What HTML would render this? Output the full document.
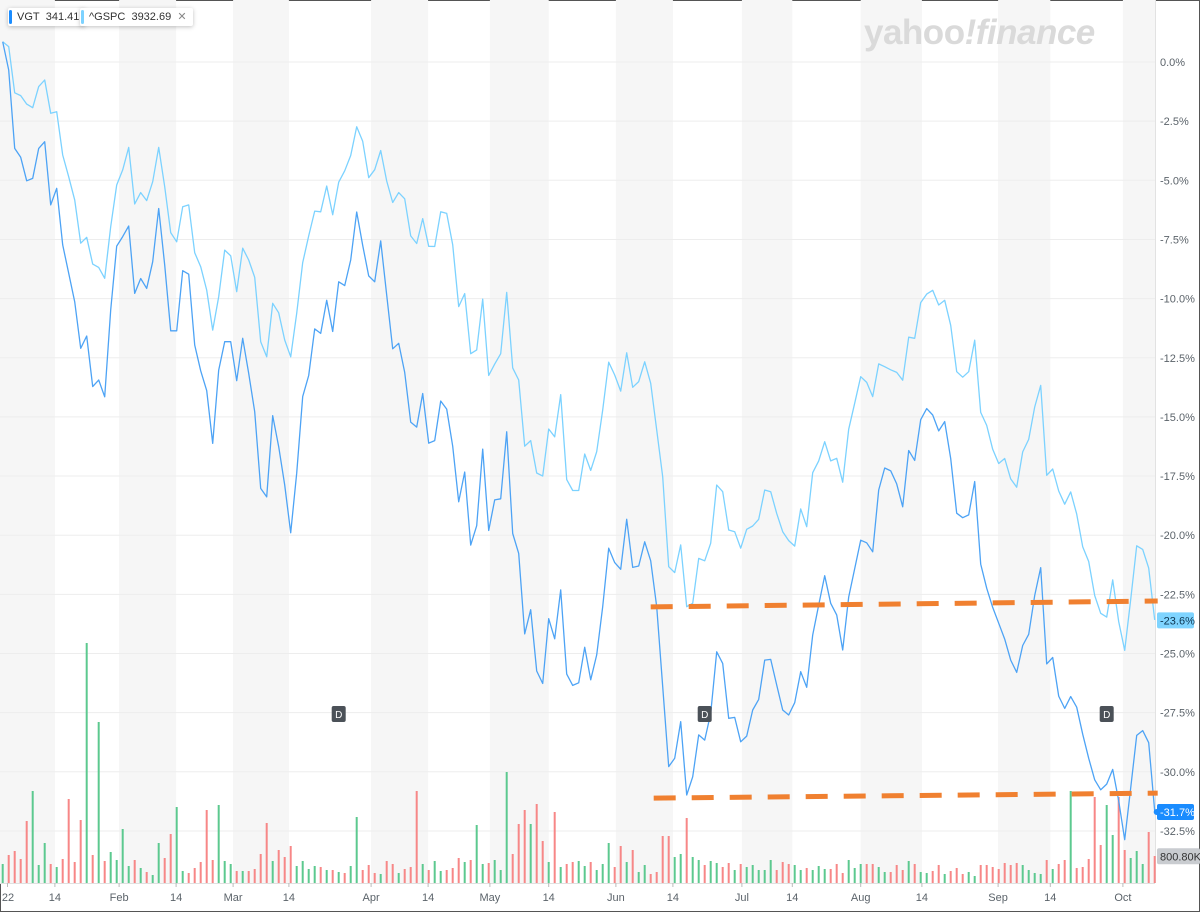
<!DOCTYPE html>
<html><head><meta charset="utf-8"><style>
html,body{margin:0;padding:0;background:#fff;}
body{width:1200px;height:912px;overflow:hidden;position:relative;font-family:"Liberation Sans",sans-serif;}
#frame{position:absolute;left:0;top:0;width:1198px;height:910px;border:1px solid #555;}
svg{position:absolute;left:0;top:0;}
.chip{position:absolute;top:8px;height:18px;background:#fff;box-shadow:0 1px 4px rgba(0,0,0,.25);border-radius:2px;font-size:11px;color:#333;line-height:18px;padding:0 6px 0 9px;white-space:nowrap;}
.chip i{position:absolute;left:1px;top:2px;width:3px;height:14px;border-radius:2px;}
</style></head><body>
<div id="frame"></div>
<svg id="chart" width="1200" height="912"></svg>
<div class="chip" style="left:8px"><i style="background:#1a8cff"></i>VGT&nbsp; 341.41</div>
<div class="chip" style="left:80px"><i style="background:#7cd2ff"></i>^GSPC&nbsp; 3932.69 &nbsp;<span style="color:#888">✕</span></div>
<div style="position:absolute;left:864px;top:13px;font-size:35px;font-weight:bold;color:#dadada;letter-spacing:-0.5px">yahoo<i>!</i><i>finance</i></div>
<script>
const vgt=[0.86,-0.34,-3.65,-4.03,-5.02,-4.92,-3.65,-3.37,-6.04,-5.34,-7.73,-8.93,-10.13,-12.10,-11.58,-13.72,-13.44,-14.15,-10.48,-7.78,-7.38,-6.93,-9.78,-9.15,-9.57,-8.44,-6.19,-8.58,-11.36,-11.36,-8.82,-8.97,-11.96,-13.05,-13.89,-16.12,-13.02,-11.82,-11.82,-13.47,-11.68,-13.16,-14.78,-18.02,-18.38,-14.95,-16.26,-17.88,-19.90,-17.38,
-14.14,-13.25,-11.28,-11.47,-10.07,-11.39,-9.29,-9.45,-8.37,-6.34,-7.75,-9.04,-9.29,-7.56,-9.85,-12.12,-11.89,-13.12,-15.22,-15.43,-14.01,-16.11,-16.00,-14.33,-14.67,-16.24,-18.59,-17.33,-20.42,-19.60,-16.36,-19.80,-18.51,-18.46,-15.63,-19.93,-20.77,-24.17,-23.15,-25.74,-26.27,-23.53,-24.38,-22.31,-25.87,-26.35,-26.24,-24.74,-26.11,
-25.06,-23.02,-20.55,-21.16,-21.44,-19.33,-21.36,-21.30,-20.28,-21.08,-23.02,-26.40,-29.78,-29.43,-27.88,-30.98,-30.21,-28.44,-28.66,-27.53,-24.93,-25.42,-27.74,-27.70,-28.73,-28.49,-27.39,-26.94,-25.28,-25.25,-26.33,-27.39,-27.60,-27.08,-25.77,-26.43,-24.22,-22.95,-21.71,-22.88,-23.37,-24.85,-22.61,-21.41,-20.21,-20.32,-20.70,-18.09,
-17.16,-17.28,-17.83,-18.80,-16.42,-16.84,-15.12,-14.65,-14.92,-15.59,-15.20,-16.76,-19.07,-19.26,-19.14,-17.73,-21.22,-22.24,-23.05,-23.72,-24.39,-25.28,-25.80,-24.66,-24.19,-22.55,-21.37,-25.44,-25.17,-26.80,-27.32,-26.82,-27.27,-28.41,-29.43,-30.34,-30.76,-30.52,-29.90,-31.23,-32.87,-30.68,-28.46,-28.26,-28.77,-31.66];
const gspc=[0.86,0.65,-1.30,-1.42,-1.78,-1.93,-1.04,-0.76,-2.17,-2.10,-3.93,-4.85,-5.83,-7.66,-7.41,-8.54,-8.68,-9.14,-6.96,-5.20,-4.56,-3.61,-6.00,-5.52,-5.86,-5.06,-3.61,-5.27,-7.21,-7.60,-6.12,-6.04,-8.06,-8.65,-9.64,-11.33,-9.92,-7.95,-8.19,-9.71,-7.87,-8.37,-9.10,-11.82,-12.46,-10.20,-10.60,-11.75,-12.46,-10.62,
-8.48,-7.35,-6.30,-6.33,-5.24,-6.46,-5.08,-4.60,-3.95,-2.74,-3.35,-4.89,-4.55,-3.74,-5.03,-5.94,-5.52,-5.78,-7.35,-7.67,-6.62,-7.79,-7.80,-6.33,-6.40,-7.72,-10.34,-9.79,-12.33,-12.17,-10.02,-13.25,-12.77,-12.33,-9.74,-12.93,-13.44,-16.24,-16.00,-17.37,-17.50,-15.51,-15.84,-14.06,-17.65,-18.11,-18.11,-16.57,-17.26,
-16.47,-14.71,-12.69,-13.23,-13.91,-12.29,-13.75,-13.51,-12.67,-13.58,-15.55,-17.53,-21.33,-21.58,-20.41,-23.02,-22.88,-20.98,-21.08,-20.34,-17.88,-18.16,-19.78,-19.85,-20.55,-19.75,-19.61,-19.33,-18.09,-18.16,-19.08,-19.85,-20.23,-20.46,-18.89,-19.64,-17.36,-16.86,-16.05,-16.86,-16.75,-17.76,-15.52,-14.42,-13.30,-13.54,-14.14,-12.76,
-12.88,-13.01,-13.12,-13.45,-11.63,-11.68,-10.17,-9.81,-9.65,-10.27,-10.07,-11.13,-13.09,-13.32,-13.09,-11.76,-14.81,-15.36,-16.37,-16.97,-16.76,-17.62,-17.97,-16.48,-15.95,-14.58,-13.67,-17.47,-17.20,-18.13,-18.69,-18.17,-19.11,-20.49,-21.11,-22.55,-23.30,-23.46,-21.89,-23.65,-24.87,-22.72,-20.45,-20.60,-21.39,-23.58];
// volume in units of 10K shares
const volume=[57,84,96,72,186,276,54,120,57,48,72,252,63,189,720,84,483,66,93,69,162,51,69,45,33,24,120,75,147,228,36,30,45,63,219,69,234,66,57,36,36,36,42,87,180,66,99,78,111,51,66,42,51,48,39,39,33,30,51,198,39,54,30,27,66,57,30,42,48,276,57,39,66,36,39,45,75,63,69,174,57,60,69,39,333,87,177,219,177,237,126,63,213,48,57,63,66,
51,63,39,57,120,48,111,63,99,33,54,27,33,141,141,78,87,195,78,69,54,66,60,48,60,39,57,48,54,39,39,69,39,63,57,54,39,45,39,51,42,42,57,30,69,45,57,57,57,48,33,33,54,39,66,57,33,30,36,54,27,36,45,27,33,21,54,54,48,42,60,54,60,54,39,30,27,69,42,57,69,276,45,48,72,258,114,234,144,258,99,75,96,57,153,81];
const yTicks=[0,-2.5,-5,-7.5,-10,-12.5,-15,-17.5,-20,-22.5,-25,-27.5,-30,-32.5];
const xTickLabels=["22","14","Feb","14","Mar","14","Apr","14","May","14","Jun","14","Jul","14","Aug","14","Sep","14","Oct"];
const xTickDays=[0.8,8.7,19.4,28.9,38.4,47.7,61.4,70.9,81.2,91.0,102.2,111.7,123.2,131.6,143.0,153.2,165.9,174.6,186.7];
const upperTrend=[108,-23.03,192.5,-22.78];
const lowerTrend=[108.5,-31.11,192.5,-30.90];
const dividendDays=[56,117,184];
const lastVgt=-31.7, lastGspc=-23.6, volLabel="800.80K", volLabelValue=80.08;

const NS="http://www.w3.org/2000/svg";
const svg=document.getElementById('chart');
const PLOT_R=1155;
function X(i){return 2.7+i*6;}
function Y(p){return 62-p*23.66;}
function VY(v){return 883-v/3;}
function mk(tag,attrs,parent){const e=document.createElementNS(NS,tag);for(const k in attrs)e.setAttribute(k,attrs[k]);(parent||svg).appendChild(e);return e;}

for(let k=0;k<xTickDays.length;k+=2){
  const x0=k===0?0:X(xTickDays[k]);
  const x1=k+1<xTickDays.length?X(xTickDays[k+1]):PLOT_R;
  const b=mk('rect',{x:x0,y:0,width:x1-x0,height:883,fill:'#f6f6f6'});
  
  
}
yTicks.forEach(t=>{
  const g=mk('line',{x1:0,x2:PLOT_R,y1:Y(t),y2:Y(t),stroke:'#ededed','stroke-width':1});
  
  
  const tx=mk('text',{x:1160,y:Y(t)+4,'font-size':11,fill:'#5b636a'});
  tx.textContent=(t===0?'0.0':t.toFixed(1))+'%';
  
  
});
mk('line',{x1:PLOT_R+0.5,x2:PLOT_R+0.5,y1:0,y2:883,stroke:'#e2e2e2'});
volume.forEach((v,i)=>{
  const up=i===0?true:vgt[i]>=vgt[i-1];
  const r=mk('rect',{x:X(i)-1,y:VY(v),width:2,height:883-VY(v),fill:up?'#5cc98f':'#f78787'});
  
  
});
mk('line',{x1:0,x2:PLOT_R,y1:883.5,y2:883.5,stroke:'#e0e0e0'});
xTickLabels.forEach((l,k)=>{
  const x=X(xTickDays[k]);
  mk('line',{x1:x,x2:x,y1:883,y2:887,stroke:'#bbb'});
  const t=mk('text',{x:k===0?8:x,y:901,'font-size':11,fill:'#5b636a','text-anchor':'middle'});
  t.textContent=l;
  
  
});
function line(arr,color,name){
  const p=mk('polyline',{points:arr.map((v,i)=>X(i).toFixed(1)+','+Y(v).toFixed(1)).join(' '),fill:'none',stroke:color,'stroke-width':1.3,'stroke-linejoin':'round'});
  
  
}
line(gspc,'#7cd2ff','gspc-line');
line(vgt,'#4da3f5','vgt-line');
[[upperTrend,'upper-trendline'],[lowerTrend,'lower-trendline']].forEach(([t,n])=>{
  const l=mk('line',{x1:X(t[0]),y1:Y(t[1]),x2:X(t[2]),y2:Y(t[3]),stroke:'#f08030','stroke-width':5,'stroke-dasharray':'22 16'});
  
  
});
dividendDays.forEach(d=>{
  const g=mk('g',{});
  
  
  mk('rect',{x:X(d)-7,y:706,width:14,height:16,rx:2,fill:'#4b5158'},g);
  const t=mk('text',{x:X(d),y:718,'font-size':10,fill:'#fff','text-anchor':'middle'},g);
  t.textContent='D';
});
function tag(val,yv,bg,fg,name,w){
  const g=mk('g',{});
  
  
  mk('rect',{x:1157,y:yv-8,width:w,height:16,rx:2,fill:bg},g);
  const t=mk('text',{x:1160,y:yv+4,'font-size':11,fill:fg},g);
  t.textContent=val;
}
tag(lastGspc.toFixed(1)+'%',Y(lastGspc),'#7fd4ff','#0d3550','gspc-last-value',37);
tag(lastVgt.toFixed(1)+'%',Y(lastVgt),'#1a8cff','#fff','vgt-last-value',37);
mk('circle',{cx:X(vgt.length-1)+2,cy:Y(lastVgt),r:3,fill:'#1a8cff'});
tag(volLabel,VY(volLabelValue),'#c9ccd0','#333','volume-last-value',43);
</script>
</body></html>
